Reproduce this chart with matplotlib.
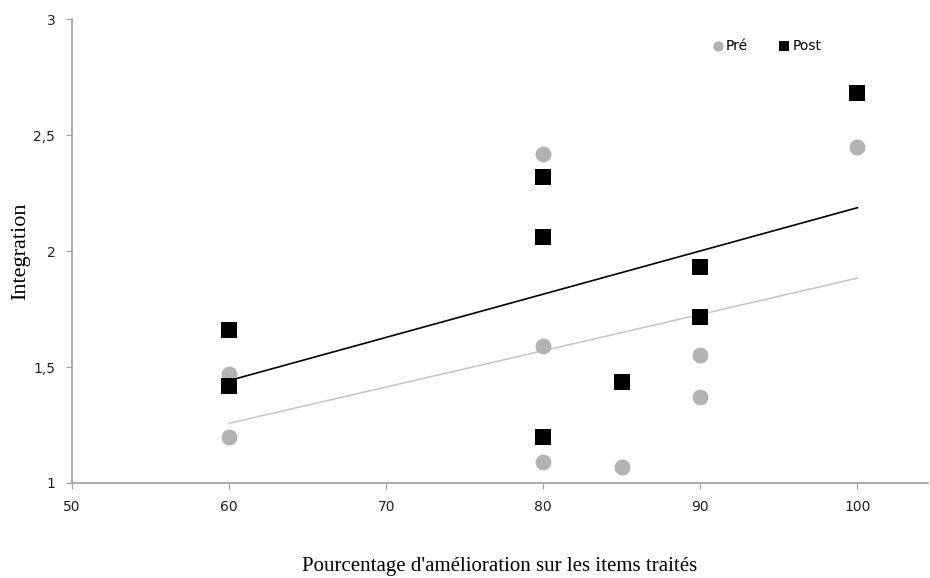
import numpy as np
import matplotlib
matplotlib.use("Agg")
import matplotlib.pyplot as plt

pre_x = [60, 60, 80, 80, 80, 85, 90, 90, 100]
pre_y = [1.47, 1.20, 2.42, 1.59, 1.09, 1.07, 1.55, 1.37, 2.45]
post_x = [60, 60, 80, 80, 80, 85, 90, 90, 100]
post_y = [1.66, 1.42, 2.32, 2.06, 1.20, 1.435, 1.93, 1.715, 2.68]
xticks = [50, 60, 70, 80, 90, 100]
yticks = [1, 1.5, 2, 2.5, 3]
ytick_labels = ["1", "1,5", "2", "2,5", "3"]

fig = plt.figure(figsize=(9.3, 5.78), dpi=100)
ax = fig.add_axes([0.0774, 0.1644, 0.9206, 0.8026])

gray = "#b2b2b2"
ax.scatter(pre_x, pre_y, s=130, marker="o", color=gray, label="Pré", zorder=3, linewidths=0)
ax.scatter(post_x, post_y, s=140, marker="s", color="black", label="Post", zorder=4, linewidths=0)

xs = np.array([min(pre_x), max(pre_x)])
m, b = np.polyfit(pre_x, pre_y, 1)
ax.plot(xs, m * xs + b, color="#c4c4c4", lw=1.1, zorder=2)
m2, b2 = np.polyfit(post_x, post_y, 1)
ax.plot(xs, m2 * xs + b2, color="black", lw=1.2, zorder=2)

ax.set_xlim(50, 104.5)
ax.set_ylim(1, 3)
ax.set_xticks(xticks)
ax.set_xticklabels([str(t) for t in xticks])
ax.set_yticks(yticks)
ax.set_yticklabels(ytick_labels)
for s in ["top", "right"]:
    ax.spines[s].set_visible(False)
for s in ["left", "bottom"]:
    ax.spines[s].set_color("#a0a0a0")
    ax.spines[s].set_linewidth(1.2)
ax.tick_params(axis="both", direction="out", length=4, color="#a0a0a0",
               labelsize=10, labelcolor="#222222", pad=8)
for lab in ax.get_xticklabels() + ax.get_yticklabels():
    lab.set_family("DejaVu Sans")

ax.set_xlabel("Pourcentage d'amélioration sur les items traités",
              family="Liberation Serif", fontsize=15, labelpad=31)
ax.set_ylabel("Integration", family="Liberation Serif", fontsize=16, labelpad=2)

leg = ax.legend(loc="center", bbox_to_anchor=(0.81, 0.942), ncol=2, frameon=False,
                handletextpad=0.0, columnspacing=2.0, markerscale=0.65,
                prop={"family": "DejaVu Sans", "size": 10}, handlelength=1.2)

fig.savefig("out.png", dpi=100)
